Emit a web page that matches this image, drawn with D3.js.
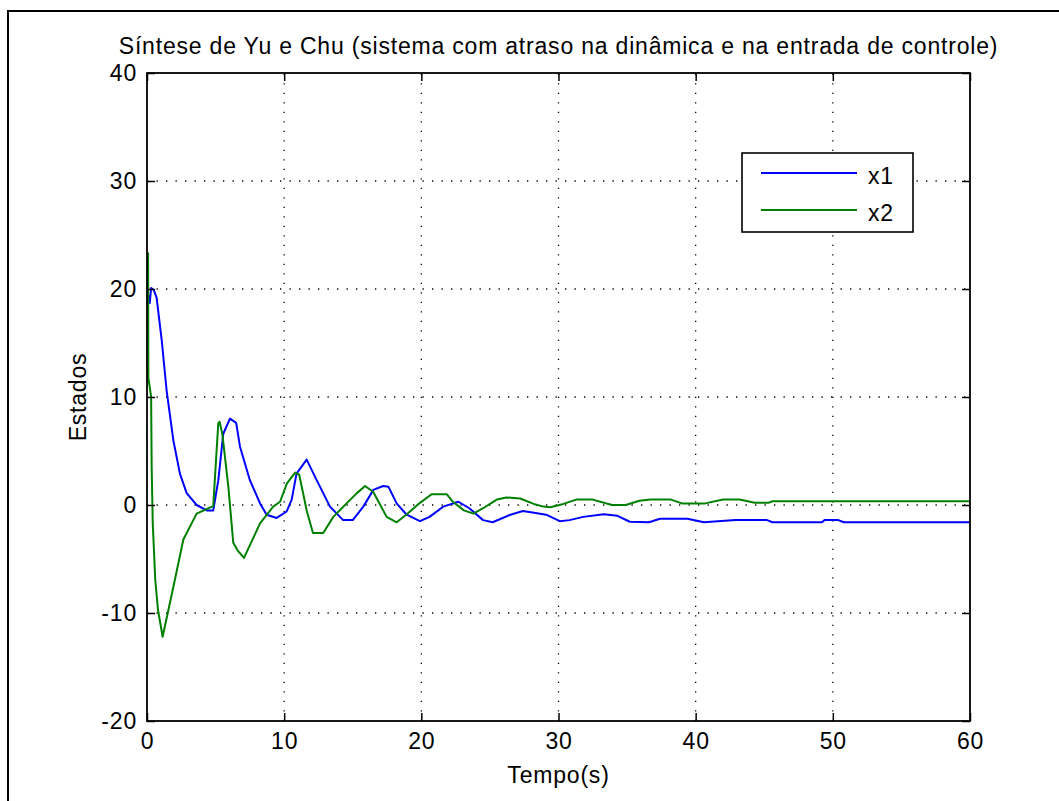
<!DOCTYPE html>
<html>
<head>
<meta charset="utf-8">
<script src="https://cdn.jsdelivr.net/npm/d3@7"></script>
<style>
  body { margin: 0; background: #fff; }
  svg text { font-family: "Liberation Sans", Arial, Helvetica, sans-serif; fill: #000; }
</style>
</head>
<body>
<svg id="chart" width="1059" height="801"></svg>
<script>
// Time axis and state axis ticks
const xTicks = [0, 10, 20, 30, 40, 50, 60];
const yTicks = [-20, -10, 0, 10, 20, 30, 40];

// State x1 (blue)
const x1Time = [0, 0.2, 0.3, 0.5, 0.7, 1.07, 1.43, 1.92, 2.4, 2.89, 3.62, 4.35, 4.83, 5.2, 5.56, 6.05, 6.5, 6.78, 7.5, 8.24, 8.72, 9.45, 10.18, 10.55, 10.9, 11.64, 12.37, 13.34, 14.3, 15.0, 15.77, 16.5, 17.22, 17.6, 18.2, 18.93, 19.9, 20.6, 21.6, 22.7, 23.5, 24.5, 25.2, 26.5, 27.4, 28.1, 29.1, 30.1, 30.8, 31.8, 33.3, 34.3, 35.2, 36.6, 37.4, 39.4, 40.6, 42.9, 45.2, 45.6, 49.2, 49.4, 50.4, 50.8, 60];
const x1Values = [20, 18.7, 20.1, 19.9, 19.2, 15.3, 10.6, 6.0, 2.9, 1.1, 0, -0.5, -0.5, 2.3, 6.6, 8.0, 7.6, 5.4, 2.3, 0.15, -0.9, -1.2, -0.6, 0.5, 2.9, 4.2, 2.3, -0.15, -1.4, -1.4, -0.15, 1.4, 1.76, 1.7, 0.15, -0.9, -1.5, -1.1, -0.15, 0.3, -0.3, -1.4, -1.6, -0.9, -0.55, -0.7, -0.9, -1.5, -1.4, -1.1, -0.85, -1.0, -1.55, -1.6, -1.27, -1.27, -1.6, -1.4, -1.4, -1.6, -1.6, -1.4, -1.4, -1.6, -1.6];

// State x2 (green)
const x2Time = [0, 0.08, 0.1, 0.3, 0.34, 0.42, 0.6, 0.8, 1.14, 1.92, 2.65, 3.62, 4.83, 5.0, 5.2, 5.3, 5.5, 5.93, 6.29, 6.6, 7.07, 8.24, 9.2, 9.7, 10.2, 10.8, 11.1, 11.64, 12.1, 12.85, 13.58, 14.55, 15.3, 15.9, 16.5, 17.47, 18.2, 18.9, 19.9, 20.75, 21.85, 22.3, 23.1, 23.8, 24.5, 25.5, 26.2, 27.2, 28.2, 28.9, 29.4, 30.35, 31.3, 32.5, 33.9, 34.9, 35.9, 36.7, 38.2, 39, 40.7, 42, 43.2, 44.3, 45.3, 45.6, 60];
const x2Values = [23.3, 23.3, 11.8, 10.0, 3.5, -1.7, -6.9, -9.7, -12.2, -7.6, -3.2, -0.8, -0.1, 3.5, 7.6, 7.7, 6.5, 1.7, -3.5, -4.2, -4.9, -1.7, -0.15, 0.3, 2.0, 3.0, 2.8, -0.5, -2.6, -2.6, -1.1, 0.15, 1.1, 1.76, 1.2, -1.1, -1.6, -0.9, 0.2, 1.0, 1.0, 0.3, -0.5, -0.8, -0.3, 0.5, 0.7, 0.6, 0.1, -0.15, -0.2, 0.1, 0.5, 0.5, 0.0, 0.0, 0.4, 0.5, 0.5, 0.15, 0.15, 0.5, 0.5, 0.2, 0.2, 0.35, 0.35];

const seriesNames = ["x1", "x2"];
const seriesColors = ["#0000ff", "#008000"];

const titleText = "Síntese de Yu e Chu (sistema com atraso na dinâmica e na entrada de controle)";
const xLabelText = "Tempo(s)";
const yLabelText = "Estados";

const svg = d3.select("#chart");
const W = 1059, H = 801;
const plot = { left: 147, right: 970, top: 73, bottom: 721 };
const fontSize = 23;
const letterSpacing = 0.8;

// Figure frame
svg.append("rect")
  .attr("x", 8).attr("y", 11)
  .attr("width", W).attr("height", H)
  .attr("fill", "#fff").attr("stroke", "#000").attr("stroke-width", 2);

const x = d3.scaleLinear().domain([0, 60]).range([plot.left, plot.right]);
const y = d3.scaleLinear().domain([-20, 40]).range([plot.bottom, plot.top]);

// Dotted grid
const grid = svg.append("g").attr("stroke", "#000").attr("stroke-width", 1.3)
  .attr("stroke-dasharray", "1.3 8.2");
grid.selectAll("line.vx").data(xTicks.slice(1, -1)).join("line")
  .attr("x1", d => x(d)).attr("x2", d => x(d))
  .attr("y1", plot.bottom).attr("y2", plot.top);
grid.selectAll("line.hy").data(yTicks.slice(1, -1)).join("line")
  .attr("x1", plot.left).attr("x2", plot.right)
  .attr("y1", d => y(d)).attr("y2", d => y(d));

// Series lines
svg.append("clipPath").attr("id", "plotClip").append("rect")
  .attr("x", plot.left).attr("y", plot.top)
  .attr("width", plot.right - plot.left).attr("height", plot.bottom - plot.top);

const line = d3.line().x(d => x(d[0])).y(d => y(d[1]));
const series = [
  d3.zip(x1Time, x1Values),
  d3.zip(x2Time, x2Values)
];
svg.append("g").attr("clip-path", "url(#plotClip)")
  .selectAll("path").data(series).join("path")
  .attr("d", line)
  .attr("fill", "none")
  .attr("stroke", (d, i) => seriesColors[i])
  .attr("stroke-width", 2)
  .attr("stroke-linejoin", "round");

// Axes with inward ticks on all four sides
const tickLen = 8;
const plain = d => String(d);
function styleAxis(g) {
  g.selectAll(".domain").remove();
  g.selectAll(".tick line").attr("stroke", "#000").attr("stroke-width", 1.5);
  g.selectAll(".tick text").attr("font-size", fontSize).attr("fill", "#000")
    .attr("letter-spacing", letterSpacing)
    .attr("font-family", '"Liberation Sans", Arial, sans-serif');
}
svg.append("g").attr("transform", `translate(0,${plot.bottom})`)
  .call(d3.axisBottom(x).tickValues(xTicks).tickSize(-tickLen).tickPadding(12).tickFormat(plain))
  .call(styleAxis);
svg.append("g").attr("transform", `translate(0,${plot.top})`)
  .call(d3.axisTop(x).tickValues(xTicks).tickSize(-tickLen).tickFormat(""))
  .call(styleAxis);
svg.append("g").attr("transform", `translate(${plot.left},0)`)
  .call(d3.axisLeft(y).tickValues(yTicks).tickSize(-tickLen).tickPadding(10).tickFormat(plain))
  .call(styleAxis);
svg.append("g").attr("transform", `translate(${plot.right},0)`)
  .call(d3.axisRight(y).tickValues(yTicks).tickSize(-tickLen).tickFormat(""))
  .call(styleAxis);

// Plot box
svg.append("rect")
  .attr("x", plot.left).attr("y", plot.top)
  .attr("width", plot.right - plot.left).attr("height", plot.bottom - plot.top)
  .attr("fill", "none").attr("stroke", "#000").attr("stroke-width", 1.8);

// Title and axis labels
svg.append("text").attr("x", (plot.left + plot.right) / 2).attr("y", 54)
  .attr("text-anchor", "middle").attr("font-size", fontSize)
  .attr("letter-spacing", letterSpacing).text(titleText);
svg.append("text").attr("x", (plot.left + plot.right) / 2).attr("y", 783)
  .attr("text-anchor", "middle").attr("font-size", fontSize)
  .attr("letter-spacing", letterSpacing).text(xLabelText);
svg.append("text")
  .attr("transform", `translate(86,${(plot.top + plot.bottom) / 2}) rotate(-90)`)
  .attr("text-anchor", "middle").attr("font-size", fontSize)
  .attr("letter-spacing", letterSpacing).text(yLabelText);

// Legend
const legend = svg.append("g");
legend.append("rect").attr("x", 742).attr("y", 153).attr("width", 171).attr("height", 79)
  .attr("fill", "#fff").attr("stroke", "#000").attr("stroke-width", 1.6);
const rows = legend.selectAll("g.row").data(seriesNames).join("g")
  .attr("transform", (d, i) => `translate(0,${173 + i * 37})`);
rows.append("line").attr("x1", 761).attr("x2", 857).attr("y1", 0).attr("y2", 0)
  .attr("stroke", (d, i) => seriesColors[i]).attr("stroke-width", 2);
rows.append("text").attr("x", 868).attr("y", 3).attr("dy", "0.35em")
  .attr("font-size", fontSize).attr("letter-spacing", letterSpacing).text(d => d);
</script>
</body>
</html>
